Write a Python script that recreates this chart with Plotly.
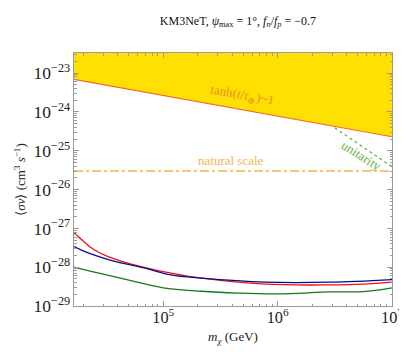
import plotly.graph_objects as go

# masses (GeV) and <sigma v> limits (cm^3 s^-1)
mass_red = [1.66e4, 2.02e4, 2.45e4, 3.18e4, 4.4e4, 6.95e4, 1.17e5, 2.17e5, 7.9e5, 2.9e6, 5.6e6, 1e7]
sv_red = [7.8e-28, 4.6e-28, 2.9e-28, 1.95e-28, 1.4e-28, 9.8e-29, 7.0e-29, 5.2e-29, 3.65e-29, 3.5e-29, 3.65e-29, 4.1e-29]

mass_blue = [1.66e4, 2.02e4, 2.62e4, 3.62e4, 6.95e4, 1.17e5, 2.17e5, 7.9e5, 2.9e6, 1e7]
sv_blue = [3.4e-28, 2.6e-28, 1.95e-28, 1.45e-28, 9.4e-29, 6.3e-29, 5.2e-29, 4.1e-29, 4.1e-29, 4.8e-29]

mass_green = [1.66e4, 2.62e4, 5.0e4, 1e5, 2.17e5, 4.5e5, 1e6, 2.9e6, 5.6e6, 1e7]
sv_green = [1.0e-28, 7.2e-29, 4.65e-29, 2.95e-29, 2.4e-29, 2.15e-29, 2.05e-29, 2.3e-29, 2.35e-29, 2.95e-29]

# tanh(t/tau)~1 boundary, unitarity, natural scale
mass_tanh = [1.66e4, 1e7]
sv_tanh = [6.9e-24, 2.3e-25]
sv_top = [1e-20, 1e-20]
mass_unit = [3.16e6, 1e7]
sv_unit = [3.9e-25, 3.9e-26]
mass_nat = [1.66e4, 1e7]
sv_nat = [3e-26, 3e-26]

YELLOW = "#FFE000"
EDGE = "#F26A2A"
ORANGE_TXT = "#EE8A1E"
NAT = "#F9B24E"
UNIT = "#6CB33F"
FONT = "Liberation Serif"

fig = go.Figure()

# yellow excluded region
fig.add_trace(go.Scatter(
    x=mass_tanh + mass_tanh[::-1], y=sv_tanh + sv_top,
    fill="toself", fillcolor=YELLOW, mode="lines",
    line=dict(width=0), hoverinfo="skip",
))
fig.add_trace(go.Scatter(x=mass_tanh, y=sv_tanh, mode="lines",
                         line=dict(color=EDGE, width=1.2)))
fig.add_trace(go.Scatter(x=mass_nat, y=sv_nat, mode="lines",
                         line=dict(color=NAT, width=1.5, dash="dashdot")))
fig.add_trace(go.Scatter(x=mass_unit, y=sv_unit, mode="lines",
                         line=dict(color=UNIT, width=1.3, dash="dot")))

fig.add_trace(go.Scatter(x=mass_red, y=sv_red, mode="lines", line_shape="spline",
                         line=dict(color="#EE1111", width=1.3)))
fig.add_trace(go.Scatter(x=mass_blue, y=sv_blue, mode="lines", line_shape="spline",
                         line=dict(color="#0A0A8C", width=1.3)))
fig.add_trace(go.Scatter(x=mass_green, y=sv_green, mode="lines", line_shape="spline",
                         line=dict(color="#157A15", width=1.3)))

fig.add_annotation(x=5.69, y=-23.58, xref="x", yref="y", showarrow=False,
                   text="tanh(<i>t</i>/<i>τ</i><sub>⊕</sub>)~1", textangle=10,
                   font=dict(family=FONT, size=13, color=ORANGE_TXT))
fig.add_annotation(x=5.59, y=-25.24, xref="x", yref="y", showarrow=False,
                   text="natural scale",
                   font=dict(family=FONT, size=13, color=NAT))
fig.add_annotation(x=6.73, y=-25.13, xref="x", yref="y", showarrow=False,
                   text="unitarity", textangle=32,
                   font=dict(family=FONT, size=13, color=UNIT))

axis = dict(
    type="log", showgrid=False, zeroline=False,
    showline=True, linecolor="#9a9a9a", linewidth=1, mirror="allticks",
    ticks="inside", ticklen=5, tickcolor="#9a9a9a",
    dtick=1, exponentformat="power",
    minor=dict(ticks="inside", ticklen=2.5, tickcolor="#9a9a9a", dtick="D1", showgrid=False),
    tickfont=dict(family=FONT, size=14, color="#222"),
)

fig.update_layout(
    width=407, height=352,
    margin=dict(l=65, r=12, t=45, b=54),
    paper_bgcolor="white", plot_bgcolor="white",
    showlegend=False,
    font=dict(family=FONT, color="#222"),
    title=dict(text="KM3NeT, <i>ψ</i><sub>max</sub> = 1°, <i>f<sub>n</sub></i>/<i>f<sub>p</sub></i> = −0.7",
               x=0.565, xanchor="center", y=0.965, yanchor="middle",
               font=dict(family=FONT, size=12, color="#111")),
    xaxis=dict(axis, range=[4.22, 7.0], ticklabelstandoff=-3,
               tickfont=dict(family=FONT, size=13, color="#222"),
               title=dict(text="<i>m<sub>χ</sub></i> (GeV)", standoff=6,
                          font=dict(family=FONT, size=13, color="#222"))),
    yaxis=dict(axis, range=[-29, -22.48],
               title=dict(text="⟨<i>σv</i>⟩ (cm<sup>3</sup> <i>s</i><sup>−1</sup>)", standoff=4,
                          font=dict(family=FONT, size=13, color="#222"))),
)

fig.write_html("out.html")
